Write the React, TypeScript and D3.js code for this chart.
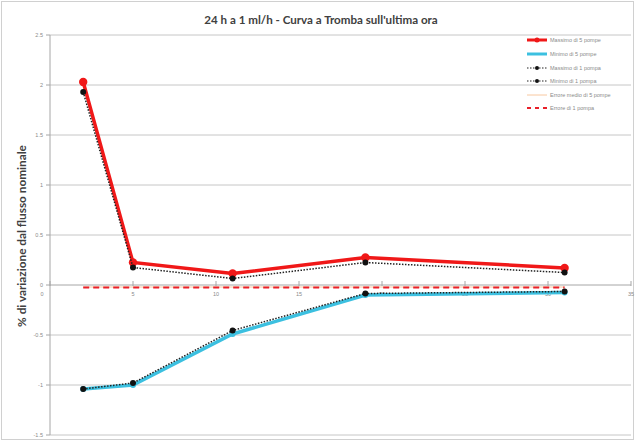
import React from "react";
import * as d3 from "d3";

const minutes = [2, 5, 11, 19, 31];
const max5 = [2.03, 0.225, 0.115, 0.275, 0.17];
const min5 = [-1.04, -1.0, -0.49, -0.1, -0.075];
const max1 = [1.93, 0.175, 0.065, 0.225, 0.125];
const min1 = [-1.04, -0.98, -0.455, -0.085, -0.065];
const errMean5 = [-0.02, -0.02, -0.02, -0.02, -0.02];
const err1 = [-0.025, -0.025, -0.025, -0.025, -0.025];
const yTicks = [2.5, 2, 1.5, 1, 0.5, 0, -0.5, -1, -1.5];
const xTicks = [0, 5, 10, 15, 20, 25, 30, 35];
const legendLabels = [
  "Massimo di 5 pompe",
  "Minimo di 5 pompe",
  "Massimo di 1 pompa",
  "Minimo di 1 pompa",
  "Errore medio di 5 pompe",
  "Errore di 1 pompa",
];

const W = 635;
const H = 441;

export default function App() {
  const x = d3.scaleLinear().domain([0, 35]).range([50, 631]);
  const y = d3.scaleLinear().domain([-1.5, 2.5]).range([435, 35]);
  const line = (vals: number[]) =>
    d3
      .line<number>()
      .x((_, i) => x(minutes[i]))
      .y((v) => y(v))(vals) || "";

  const font = "'Liberation Sans', Arial, sans-serif";
  const legendY = [40, 54, 68, 81, 95, 108];

  return (
    <svg
      width={W}
      height={H}
      style={{ position: "absolute", left: 0, top: 0, background: "#fff" }}
    >
      <rect x={1.5} y={1.5} width={W - 3} height={H - 3} fill="#fff" stroke="#d0d0d0" />
      <text
        x={321}
        y={24}
        textAnchor="middle"
        fontFamily="Lato, 'Open Sans', sans-serif"
        fontWeight="bold"
        fontSize={11.6}
        fill="#404040"
      >
        24 h a 1 ml/h - Curva a Tromba sull'ultima ora
      </text>

      {/* gridlines */}
      {yTicks
        .filter((t) => t !== 0)
        .map((t) => (
          <line key={t} x1={50} x2={631} y1={y(t)} y2={y(t)} stroke="#c6c6c6" strokeWidth={1} />
        ))}
      {/* y axis */}
      <line x1={50} x2={50} y1={35} y2={435} stroke="#a6a6a6" />
      {yTicks.map((t) => (
        <g key={"yt" + t}>
          <line x1={46} x2={50} y1={y(t)} y2={y(t)} stroke="#a6a6a6" />
          <text
            x={43}
            y={y(t) + 2}
            textAnchor="end"
            fontFamily={font}
            fontSize={5.5}
            fill="#8a8a8a"
          >
            {t}
          </text>
        </g>
      ))}
      {/* x axis */}
      <line x1={50} x2={631} y1={y(0)} y2={y(0)} stroke="#a6a6a6" />
      {xTicks.map((t) => (
        <g key={"xt" + t}>
          <line x1={x(t)} x2={x(t)} y1={y(0) - 4} y2={y(0) + 1} stroke="#a6a6a6" />
          <text
            x={t === 0 ? 42 : x(t)}
            y={y(0) + 11}
            textAnchor="middle"
            fontFamily={font}
            fontSize={5.5}
            fill="#8a8a8a"
          >
            {t}
          </text>
        </g>
      ))}

      <text
        transform={`translate(26,236) rotate(-90)`}
        textAnchor="middle"
        fontFamily="Lato, 'Open Sans', sans-serif"
        fontWeight="bold"
        fontSize={11.8}
        fill="#404040"
      >
        % di variazione dal flusso nominale
      </text>

      {/* series */}
      <path d={line(errMean5)} fill="none" stroke="#f8c8a0" strokeWidth={1} />
      <path d={line(err1)} fill="none" stroke="#e8202a" strokeWidth={2} strokeDasharray="6,4" />

      <path d={line(min5)} fill="none" stroke="#3cc0e0" strokeWidth={3.5} />
      {min5.map((v, i) => (
        <circle key={"mn5" + i} cx={x(minutes[i])} cy={y(v)} r={3} fill="#3cc0e0" />
      ))}
      <path d={line(max5)} fill="none" stroke="#f01818" strokeWidth={3.5} />
      {max5.map((v, i) => (
        <circle key={"mx5" + i} cx={x(minutes[i])} cy={y(v)} r={4.2} fill="#f01818" />
      ))}

      <path d={line(max1)} fill="none" stroke="#222" strokeWidth={1.5} strokeDasharray="1.5,1.5" />
      {max1.map((v, i) => (
        <circle key={"mx1" + i} cx={x(minutes[i])} cy={y(v)} r={3} fill="#111" />
      ))}
      <path d={line(min1)} fill="none" stroke="#222" strokeWidth={1.5} strokeDasharray="1.5,1.5" />
      {min1.map((v, i) => (
        <circle key={"mn1" + i} cx={x(minutes[i])} cy={y(v)} r={3} fill="#111" />
      ))}

      {/* legend */}
      {legendLabels.map((lab, i) => {
        const ly = legendY[i];
        let sample: React.ReactNode = null;
        if (i === 0)
          sample = (
            <g>
              <line x1={527} x2={547} y1={ly} y2={ly} stroke="#f01818" strokeWidth={3} />
              <circle cx={537} cy={ly} r={2.5} fill="#f01818" />
            </g>
          );
        else if (i === 1)
          sample = <line x1={527} x2={547} y1={ly} y2={ly} stroke="#3cc0e0" strokeWidth={3} />;
        else if (i === 2 || i === 3)
          sample = (
            <g>
              <line x1={527} x2={547} y1={ly} y2={ly} stroke="#222" strokeWidth={1.2} strokeDasharray="1.5,1.5" />
              <circle cx={537} cy={ly} r={2} fill="#111" />
            </g>
          );
        else if (i === 4)
          sample = <line x1={527} x2={547} y1={ly} y2={ly} stroke="#f8c8a0" strokeWidth={1} />;
        else
          sample = (
            <line x1={527} x2={547} y1={ly} y2={ly} stroke="#e8202a" strokeWidth={1.8} strokeDasharray="4,4" />
          );
        return (
          <g key={lab}>
            {sample}
            <text x={550} y={ly + 2} fontFamily={font} fontSize={5.5} fill="#8a8a8a">
              {lab}
            </text>
          </g>
        );
      })}
    </svg>
  );
}
